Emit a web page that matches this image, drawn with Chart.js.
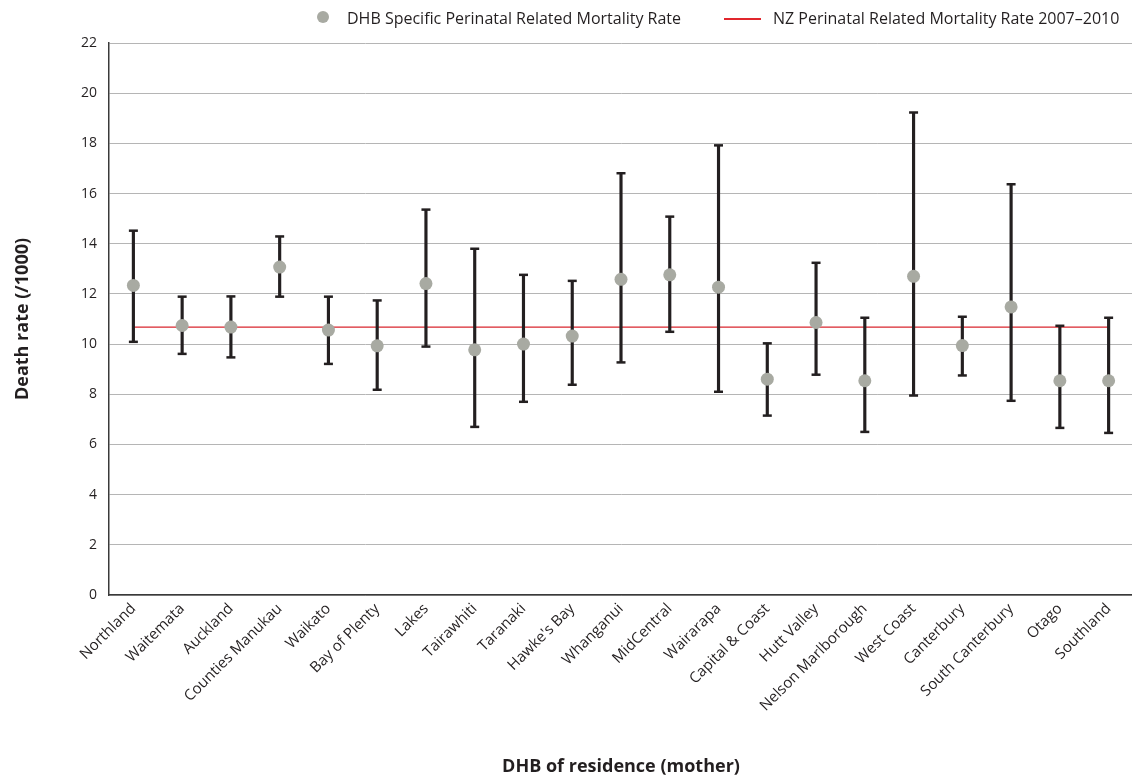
<!DOCTYPE html>
<html>
<head>
<meta charset="utf-8">
<script src="https://cdn.jsdelivr.net/npm/chart.js@4.4.1/dist/chart.umd.min.js"></script>
<style>
    html, body { margin: 0; padding: 0; background: #fff; overflow: hidden; }
    #wrap { position: relative; width: 1140px; height: 780px; }
    .legend-item { position: absolute; font-family: "Open Sans", sans-serif; font-size: 16px; line-height: 18px; color: #231f20; white-space: nowrap; }
    .dot { position: absolute; width: 12px; height: 12px; border-radius: 50%; background: #a8aaa2; }
    .red-line { position: absolute; height: 2px; background: #e1262d; }
</style>
</head>
<body>
<div id="wrap">
    <canvas id="chart" width="1140" height="780"></canvas>
    <div class="dot" style="left:317px; top:11px;"></div>
    <div class="legend-item" style="left:347px; top:9px;">DHB Specific Perinatal Related Mortality Rate</div>
    <div class="red-line" style="left:724px; top:18px; width:37px;"></div>
    <div class="legend-item" style="left:773px; top:9px;">NZ Perinatal Related Mortality Rate 2007–2010</div>
</div>
<script>
// DHB 名称
const dhbNames = ['Northland', 'Waitemata', 'Auckland', 'Counties Manukau', 'Waikato', 'Bay of Plenty',
    'Lakes', 'Tairawhiti', 'Taranaki', "Hawke's Bay", 'Whanganui', 'MidCentral', 'Wairarapa',
    'Capital & Coast', 'Hutt Valley', 'Nelson Marlborough', 'West Coast', 'Canterbury',
    'South Canterbury', 'Otago', 'Southland'];

// 各 DHB 死亡率 (/1000)
const dhbRates = [12.34, 10.74, 10.68, 13.07, 10.56, 9.93, 12.41, 9.77, 10.00, 10.32, 12.58,
    12.76, 12.27, 8.60, 10.86, 8.54, 12.70, 9.94, 11.48, 8.54, 8.54];

// 置信区间上限 / 下限
const upperCI = [14.52, 11.89, 11.90, 14.29, 11.89, 11.74, 15.36, 13.80, 12.76, 12.52, 16.81,
    15.08, 17.92, 10.03, 13.24, 11.05, 19.23, 11.09, 16.37, 10.73, 11.05];
const lowerCI = [10.09, 9.61, 9.47, 11.89, 9.21, 8.18, 9.90, 6.70, 7.70, 8.38, 9.27,
    10.49, 8.10, 7.15, 8.78, 6.50, 7.95, 8.75, 7.74, 6.66, 6.46];

// 全国参考值
const nzRate = 10.68;

const textColor = '#231f20';
const barColor = '#231f20';

const ctx = document.getElementById('chart').getContext('2d');
new Chart(ctx, {
    data: {
        labels: dhbNames,
        datasets: [
            {
                type: 'line',
                label: 'DHB Specific Perinatal Related Mortality Rate',
                data: dhbRates,
                showLine: false,
                pointRadius: 6.5,
                pointBackgroundColor: '#a8aaa2',
                pointBorderWidth: 0,
                order: 0
            },
            {
                type: 'line',
                label: 'upper',
                data: upperCI,
                showLine: false,
                pointStyle: 'line',
                pointRadius: 4.5,
                pointBorderColor: barColor,
                pointBorderWidth: 2.5,
                order: 1
            },
            {
                type: 'line',
                label: 'lower',
                data: lowerCI,
                showLine: false,
                pointStyle: 'line',
                pointRadius: 4.5,
                pointBorderColor: barColor,
                pointBorderWidth: 2.5,
                order: 1
            },
            {
                type: 'bar',
                label: 'ci',
                data: dhbNames.map((_, i) => [lowerCI[i], upperCI[i]]),
                backgroundColor: barColor,
                barThickness: 2.5,
                order: 2
            },
            {
                type: 'line',
                label: 'NZ Perinatal Related Mortality Rate 2007–2010',
                data: dhbNames.map(() => nzRate),
                borderColor: '#d9262e',
                borderWidth: 1.3,
                pointRadius: 0,
                order: 3
            }
        ]
    },
    options: {
        responsive: false,
        animation: false,
        events: [],
        layout: { padding: { top: 43, right: 2, left: 0, bottom: 0 } },
        plugins: {
            legend: { display: false },
            tooltip: { enabled: false }
        },
        scales: {
            x: {
                offset: true,
                grid: { display: false, drawTicks: false },
                border: { color: '#3a3a3a', width: 1.5 },
                ticks: {
                    minRotation: 45,
                    maxRotation: 45,
                    autoSkip: false,
                    padding: 5,
                    color: textColor,
                    font: { family: 'Open Sans', size: 15 }
                },
                title: {
                    display: true,
                    text: 'DHB of residence (mother)',
                    color: textColor,
                    font: { family: 'Open Sans', size: 18, weight: 'bold' },
                    padding: { top: 0, bottom: 2 }
                },
                afterFit(scale) { scale.height = 185; }
            },
            y: {
                min: 0,
                max: 22,
                grid: { color: '#b5b5b5', lineWidth: 1, drawTicks: false },
                border: { color: '#3a3a3a', width: 1.5 },
                ticks: {
                    stepSize: 2,
                    padding: 12,
                    color: textColor,
                    font: { family: 'Open Sans', size: 14 }
                },
                title: {
                    display: true,
                    text: 'Death rate (/1000)',
                    color: textColor,
                    font: { family: 'Open Sans', size: 18, weight: 'bold' },
                    padding: { top: 12, bottom: 0 }
                },
                afterFit(scale) { scale.width = 109; }
            }
        }
    }
});
</script>
</body>
</html>
